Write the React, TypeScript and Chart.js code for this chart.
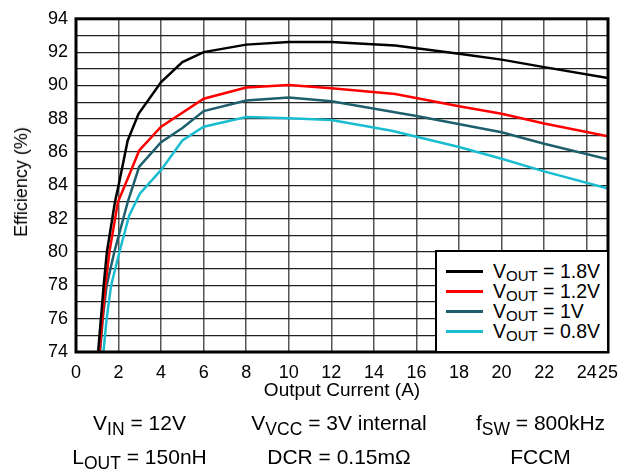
import React, { useEffect, useRef } from 'react';
import { Chart, registerables } from 'chart.js';

Chart.register(...registerables);

// Tick values
const xTickValues = [0, 2, 4, 6, 8, 10, 12, 14, 16, 18, 20, 22, 24, 25];
const yMin = 74;
const yMax = 94;

// Series: output current (A) and efficiency (%)
const v18Current = [1.04, 1.3, 1.45, 1.83, 2.0, 2.43, 2.94, 4, 5, 6, 8, 10, 12, 15, 18, 20, 22, 25];
const v18Eff = [74, 78, 80, 83, 84, 86.7, 88.3, 90.2, 91.4, 92.0, 92.45, 92.6, 92.6, 92.4, 91.9, 91.55, 91.1, 90.45];

const v12Current = [1.1, 1.38, 1.57, 1.97, 2.5, 2.97, 4, 6, 8, 10, 12, 15, 18, 20, 22, 25];
const v12Eff = [74, 78, 80, 83, 84.63, 86.1, 87.52, 89.2, 89.87, 90.03, 89.83, 89.48, 88.75, 88.3, 87.72, 86.95];

const v10Current = [1.13, 1.26, 1.44, 1.8, 2.22, 2.43, 2.97, 4, 5, 6, 8, 10, 12, 16, 20, 22, 25];
const v10Eff = [74, 76, 78, 80, 82, 83, 85.13, 86.6, 87.44, 88.46, 89.09, 89.28, 89.05, 88.16, 87.19, 86.5, 85.56];

const v08Current = [1.29, 1.44, 1.65, 2.04, 2.5, 3, 4, 5, 6, 8, 10, 12, 14.84, 18, 20, 22, 25];
const v08Eff = [74, 76, 78, 80, 82.2, 83.5, 84.93, 86.7, 87.52, 88.1, 88.03, 87.93, 87.28, 86.3, 85.6, 84.84, 83.81];

const seriesLabels = ['1.8V', '1.2V', '1V', '0.8V'];
const seriesColors = ['#000000', '#FF0000', '#1E5F6E', '#1ABDCF'];

const FONT = '"Liberation Sans", Arial, sans-serif';

const toPoints = (xs: number[], ys: number[]) => xs.map((x, i) => ({ x, y: ys[i] }));

const framePlugin = {
  id: 'frame',
  afterDatasetsDraw(chart: any) {
    const { ctx, chartArea } = chart;
    ctx.save();
    ctx.strokeStyle = '#000';
    ctx.lineWidth = 3;
    ctx.strokeRect(chartArea.left, chartArea.top, chartArea.right - chartArea.left, chartArea.bottom - chartArea.top);
    ctx.restore();
  },
};

export default function App() {
  const ref = useRef<HTMLCanvasElement>(null);

  useEffect(() => {
    const allX = [v18Current, v12Current, v10Current, v08Current];
    const allY = [v18Eff, v12Eff, v10Eff, v08Eff];
    const chart = new Chart(ref.current as HTMLCanvasElement, {
      type: 'line',
      data: {
        datasets: seriesLabels.map((label, i) => ({
          label,
          data: toPoints(allX[i], allY[i]),
          borderColor: seriesColors[i],
          backgroundColor: seriesColors[i],
          borderWidth: 2.5,
          pointRadius: 0,
          tension: 0,
          fill: false,
        })),
      },
      options: {
        responsive: false,
        animation: false,
        layout: { padding: { left: 0, right: 23, top: 12, bottom: 0 } },
        plugins: {
          legend: { display: false },
          tooltip: { enabled: false },
        },
        scales: {
          x: {
            type: 'linear',
            min: 0,
            max: 25,
            afterBuildTicks: (scale: any) => {
              scale.ticks = xTickValues.map((v) => ({ value: v }));
            },
            afterFit: (scale: any) => {
              scale.height = 120;
            },
            grid: { color: '#555', lineWidth: 1.5, drawTicks: false },
            border: { display: false },
            ticks: {
              autoSkip: false,
              maxRotation: 0,
              padding: 10,
              color: '#000',
              font: { family: FONT, size: 18 },
              callback: (v: any) => String(v),
            },
          },
          y: {
            min: yMin,
            max: yMax,
            afterFit: (scale: any) => {
              scale.width = 76;
            },
            grid: { color: '#222', lineWidth: 1.2, drawTicks: false },
            border: { display: false },
            ticks: {
              stepSize: 1,
              autoSkip: false,
              padding: 8,
              color: '#000',
              font: { family: FONT, size: 18 },
              callback: (v: any) => (Number(v) % 2 === 0 ? String(v) : ''),
            },
          },
        },
      },
      plugins: [framePlugin],
    } as any);
    return () => chart.destroy();
  }, []);

  const sub = (t: string, size = 17.5, drop = 5) => (
    <span style={{ fontSize: size, position: 'relative', top: drop }}>{t}</span>
  );

  const legendRowTops = [261, 281, 301, 321];

  const footStyle = (center: number, top: number): React.CSSProperties => ({
    position: 'absolute',
    left: center - 120,
    width: 240,
    top,
    textAlign: 'center',
    fontSize: 21,
    lineHeight: '24px',
    whiteSpace: 'nowrap',
  });

  return (
    <div
      style={{
        position: 'absolute',
        left: 0,
        top: 0,
        width: 631,
        height: 472,
        background: '#fff',
        fontFamily: FONT,
        color: '#000',
        overflow: 'hidden',
      }}
    >
      <canvas ref={ref} width={631} height={472} style={{ position: 'absolute', left: 0, top: 0, width: 631, height: 472 }} />

      {/* Y axis title */}
      <div
        style={{
          position: 'absolute',
          left: 21,
          top: 182,
          transform: 'translate(-50%, -50%) rotate(-90deg)',
          whiteSpace: 'nowrap',
          fontSize: 18,
          lineHeight: '20px',
        }}
      >
        Efficiency (%)
      </div>

      {/* X axis title */}
      <div
        style={{
          position: 'absolute',
          left: 222,
          width: 240,
          top: 379,
          textAlign: 'center',
          whiteSpace: 'nowrap',
          fontSize: 19,
          lineHeight: '22px',
        }}
      >
        Output Current (A)
      </div>

      {/* Legend */}
      <div
        style={{
          position: 'absolute',
          left: 435,
          top: 250,
          width: 174,
          height: 103,
          boxSizing: 'border-box',
          border: '2px solid #000',
          background: '#fff',
        }}
      />
      {seriesLabels.map((label, i) => (
        <React.Fragment key={label}>
          <div
            style={{
              position: 'absolute',
              left: 446,
              top: legendRowTops[i] + 9,
              width: 37,
              height: 3,
              background: seriesColors[i],
            }}
          />
          <div
            style={{
              position: 'absolute',
              left: 493,
              top: legendRowTops[i],
              fontSize: 19.5,
              lineHeight: '20px',
              whiteSpace: 'nowrap',
            }}
          >
            V{sub('OUT', 15, 3)} = {label}
          </div>
        </React.Fragment>
      ))}

      {/* Footnotes */}
      <div style={footStyle(139.5, 411)}>V{sub('IN')} = 12V</div>
      <div style={footStyle(339, 411)}>V{sub('VCC')} = 3V internal</div>
      <div style={footStyle(540.5, 411)}>f{sub('SW')} = 800kHz</div>
      <div style={footStyle(139.5, 444.5)}>L{sub('OUT')} = 150nH</div>
      <div style={footStyle(339, 444.5)}>DCR = 0.15mΩ</div>
      <div style={footStyle(540.5, 444.5)}>FCCM</div>
    </div>
  );
}
